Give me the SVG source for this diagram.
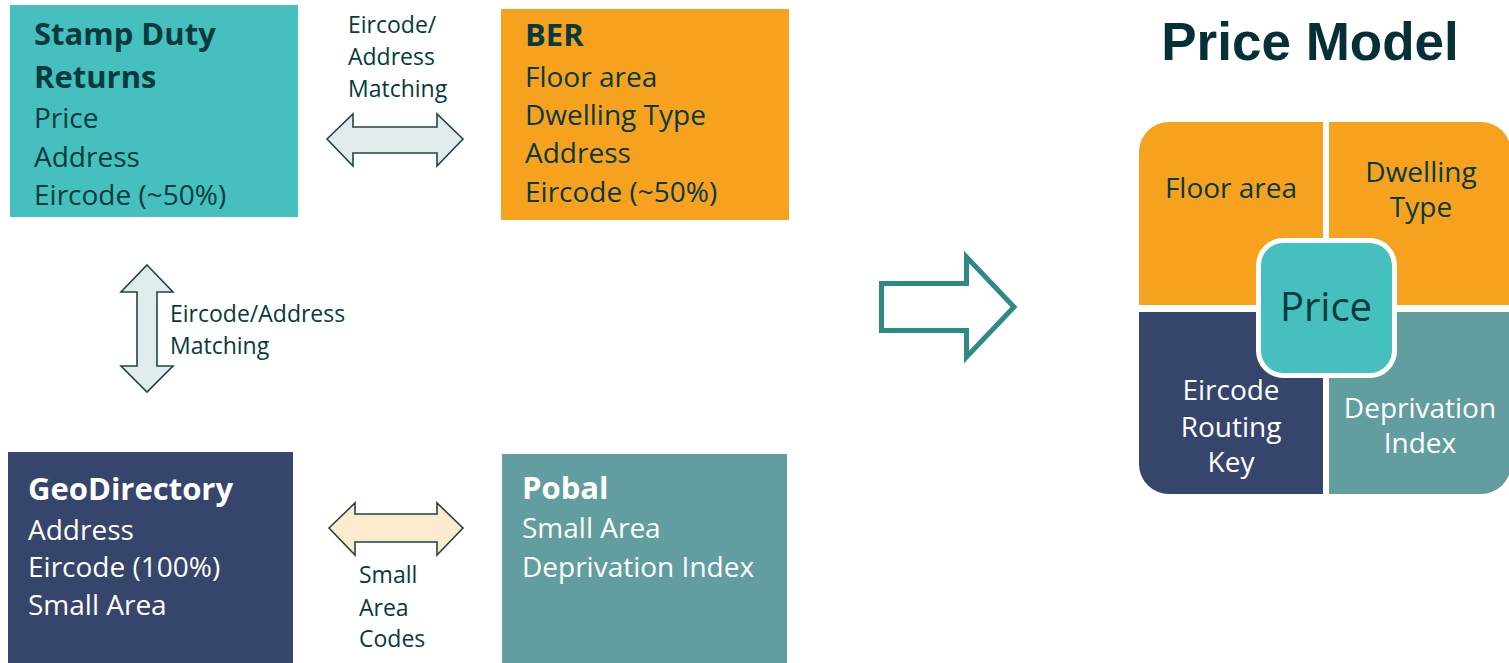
<svg xmlns="http://www.w3.org/2000/svg" width="1509" height="663" viewBox="0 0 1509 663">
<style>
.t{font-family:"Open Sans","Noto Sans",sans-serif;font-size:28px;fill:#073a3e}
.w{fill:#ffffff}
.h{font-weight:bold;font-size:31px}
.big{font-size:40px}
.lbl{font-family:"Open Sans","Noto Sans",sans-serif;font-size:23px;fill:#073a3e}
.mid{text-anchor:middle}
.dbl{stroke:#1d4646;stroke-width:1.6;stroke-linejoin:miter}
</style>
<rect width="1509" height="663" fill="#ffffff"/>
<g id="stamp-duty">
<rect x="10" y="5" width="288" height="212" fill="#45c0bf"/>
<text class="t h" x="34" y="45">Stamp Duty</text>
<text class="t h" x="34" y="88">Returns</text>
<text class="t" x="34" y="128">Price</text>
<text class="t" x="34" y="167">Address</text>
<text class="t" x="34" y="205">Eircode (~50%)</text>
</g>
<g id="ber">
<rect x="501" y="9" width="288" height="211" fill="#f7a21e"/>
<text class="t h" x="525" y="46">BER</text>
<text class="t" x="525" y="87">Floor area</text>
<text class="t" x="525" y="125">Dwelling Type</text>
<text class="t" x="525" y="163">Address</text>
<text class="t" x="525" y="202">Eircode (~50%)</text>
</g>
<g id="geodirectory">
<rect x="8" y="452" width="285" height="211" fill="#36456b"/>
<text class="t h w" x="28" y="500">GeoDirectory</text>
<text class="t w" x="28" y="540">Address</text>
<text class="t w" x="28" y="577">Eircode (100%)</text>
<text class="t w" x="28" y="615">Small Area</text>
</g>
<g id="pobal">
<rect x="502" y="454" width="285" height="209" fill="#629ea0"/>
<text class="t h w" x="522" y="499">Pobal</text>
<text class="t w" x="522" y="538">Small Area</text>
<text class="t w" x="522" y="577">Deprivation Index</text>
</g>
<g id="title">
<text x="1310" y="60" text-anchor="middle" font-family="'Liberation Sans',Arial,sans-serif" font-weight="bold" font-size="53" fill="#053035">Price Model</text>
</g>
<g id="price-model">
<path d="M1139,305 L1139,152 A30,30 0 0 1 1169,122 L1323,122 L1323,305 Z" fill="#f7a21e"/>
<path d="M1329,122 L1481,122 A30,30 0 0 1 1511,152 L1511,305 L1329,305 Z" fill="#f7a21e"/>
<path d="M1139,312 L1323,312 L1323,494 L1169,494 A30,30 0 0 1 1139,464 Z" fill="#36456b"/>
<path d="M1329,312 L1511,312 L1511,464 A30,30 0 0 1 1481,494 L1329,494 Z" fill="#629ea0"/>
<text class="t mid" x="1231" y="198">Floor area</text>
<text class="t mid" x="1421" y="182">Dwelling</text>
<text class="t mid" x="1421" y="217">Type</text>
<text class="t mid w" x="1231" y="400">Eircode</text>
<text class="t mid w" x="1231" y="437">Routing</text>
<text class="t mid w" x="1231" y="472">Key</text>
<text class="t mid w" x="1420" y="418">Deprivation</text>
<text class="t mid w" x="1420" y="453">Index</text>
<rect x="1258.5" y="240.5" width="136" height="135" rx="25" fill="#45c0bf" stroke="#ffffff" stroke-width="5"/>
<text class="t mid big" x="1326" y="321">Price</text>
</g>
<g id="connectors">
<path class="dbl" d="M327,139 L353,114 L353,127 L437,127 L437,114 L463,139 L437,166 L437,153 L353,153 L353,166 Z" fill="#e0eceb"/>
<path class="dbl" d="M147,265 L173,292 L157,292 L157,366 L173,366 L147,392 L121,366 L137,366 L137,292 L121,292 Z" fill="#e0eceb"/>
<path class="dbl" d="M329,528 L355,503 L355,514 L437,514 L437,503 L463,528 L437,555 L437,542 L355,542 L355,555 Z" fill="#fdebcf"/>
<path d="M881.5,283.5 L966.5,283.5 L966.5,257 L1014,307 L966.5,357 L966.5,330.5 L881.5,330.5 Z" fill="#ffffff" stroke="#2e8a85" stroke-width="5" stroke-linejoin="miter"/>
</g>
<g id="labels">
<text class="lbl" x="348" y="33">Eircode/</text>
<text class="lbl" x="348" y="65">Address</text>
<text class="lbl" x="348" y="97">Matching</text>
<text class="lbl" x="170" y="322">Eircode/Address</text>
<text class="lbl" x="170" y="354">Matching</text>
<text class="lbl" x="359" y="583">Small</text>
<text class="lbl" x="359" y="616">Area</text>
<text class="lbl" x="359" y="647">Codes</text>
</g>
</svg>
